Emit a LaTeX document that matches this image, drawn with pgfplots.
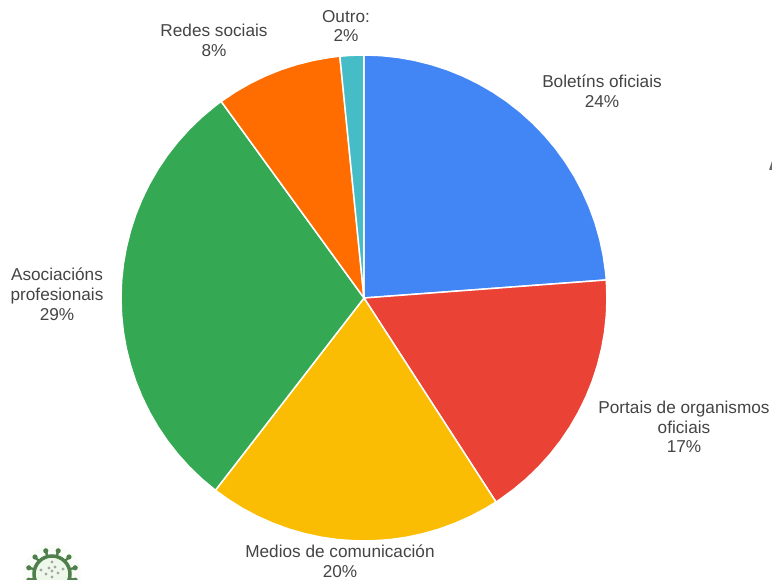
\documentclass[border=0pt]{standalone}
\usepackage{fontspec}
\setmainfont{Liberation Sans}
\usepackage{pgfplots}
\pgfplotsset{compat=1.18}
\usepgfplotslibrary{polar}
\definecolor{cblue}{HTML}{4285F4}
\definecolor{cred}{HTML}{EA4335}
\definecolor{cyellow}{HTML}{FBBC04}
\definecolor{cgreen}{HTML}{34A853}
\definecolor{corange}{HTML}{FF6D01}
\definecolor{cteal}{HTML}{46BDC6}
\definecolor{ctext}{HTML}{444444}
\definecolor{vgreen}{HTML}{4F7F4A}
\definecolor{vlight}{HTML}{DDF0D4}
\begin{document}
\begin{tikzpicture}[x=1pt,y=1pt,
  lab/.style={text=ctext,align=center,inner sep=0pt,font=\fontsize{17.2}{19.8}\selectfont}]
\path[use as bounding box] (0,0) rectangle (772,580);
\begin{polaraxis}[
  at={(364pt,282pt)},anchor=center,
  scale only axis,width=486pt,height=486pt,
  xmin=0,xmax=360,ymin=0,ymax=243,
  hide axis,clip=false]
\addplot[fill=cblue,draw=white,line width=1.5pt] coordinates {(0,0) (90,243) (86,243) (82,243) (78,243) (74,243) (70,243) (66,243) (62,243) (58,243) (54,243) (50,243) (46,243) (42,243) (38,243) (34,243) (30,243) (26,243) (22,243) (18,243) (14,243) (10,243) (6,243) (4.25,243)} --cycle;
\addplot[fill=cred,draw=white,line width=1.5pt] coordinates {(0,0) (4.25,243) (0,243) (356,243) (352,243) (348,243) (344,243) (340,243) (336,243) (332,243) (328,243) (324,243) (320,243) (316,243) (312,243) (308,243) (304,243) (302.9,243)} --cycle;
\addplot[fill=cyellow,draw=white,line width=1.5pt] coordinates {(0,0) (302.9,243) (300,243) (296,243) (292,243) (288,243) (284,243) (280,243) (276,243) (272,243) (268,243) (264,243) (260,243) (256,243) (252,243) (248,243) (244,243) (240,243) (236,243) (232.3,243)} --cycle;
\addplot[fill=cgreen,draw=white,line width=1.5pt] coordinates {(0,0) (232.3,243) (228,243) (224,243) (220,243) (216,243) (212,243) (208,243) (204,243) (200,243) (196,243) (192,243) (188,243) (184,243) (180,243) (176,243) (172,243) (168,243) (164,243) (160,243) (156,243) (152,243) (148,243) (144,243) (140,243) (136,243) (132,243) (128,243) (126,243)} --cycle;
\addplot[fill=corange,draw=white,line width=1.5pt] coordinates {(0,0) (126,243) (122,243) (118,243) (114,243) (110,243) (106,243) (102,243) (98,243) (95.7,243)} --cycle;
\addplot[fill=cteal,draw=white,line width=1.5pt] coordinates {(0,0) (95.7,243) (93,243) (90,243)} --cycle;
\end{polaraxis}
\node[lab] at (602,489) {Boletíns oficiais\\24\%};
\node[lab] at (214,540) {Redes sociais\\8\%};
\node[lab] at (346,554) {Outro:\\2\%};
\node[lab] at (57,286) {Asociacións\\profesionais\\29\%};
\node[lab] at (684,153) {Portais de organismos\\oficiais\\17\%};
\node[lab] at (340,19) {Medios de comunicación\\20\%};
% logo fragment, bottom left
\begin{scope}[shift={(52,6)}]
  \fill[vlight!18!white] (0,0) circle (29);
  \foreach \a in {15,45,...,345}{
    \draw[vgreen,line width=2.4pt] (\a:17) -- (\a:23);
    \fill[vgreen] (\a:24) circle (2.6);
  }
  \draw[vgreen,fill=vlight!50!white,line width=3.5pt] (0,0) circle (18);
  \foreach \p in {(-6,0),(0,-3),(6,1),(-3,6),(3,7),(0,12),(-11,4),(11,5),(-8,-8),(8,-8),(0,3)}
    \fill[gray!70] \p circle (1.7);
\end{scope}
% clipped glyph at the right edge
\fill[ctext!80] (769,410) -- (772,419) -- (772,410) -- cycle;
\end{tikzpicture}
\end{document}
